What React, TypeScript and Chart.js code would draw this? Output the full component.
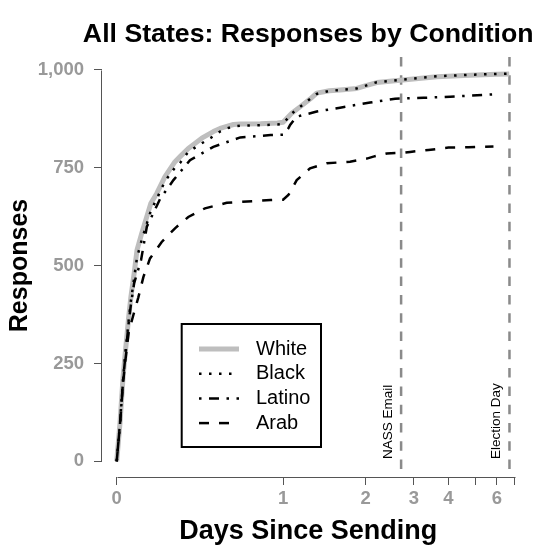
import { useEffect, useRef } from 'react';
import { Chart, registerables, LinearScale } from 'chart.js';

// ---------------- data ----------------
const CHART_TITLE = 'All States: Responses by Condition';
const SERIES_NAMES = ['White', 'Black', 'Latino', 'Arab'];

const WHITE_DAYS = [0, 0.015, 0.029, 0.038, 0.055, 0.065, 0.08, 0.093, 0.115, 0.158, 0.186, 0.226, 0.276, 0.302, 0.345, 0.419, 0.486, 0.527, 0.569, 0.613, 0.659, 0.808, 0.95, 1.0, 1.064, 1.105, 1.205, 1.326, 1.407, 1.56, 1.689, 1.891, 2.021, 2.229, 2.715, 3.665, 4.81, 6.0, 6.7];
const WHITE_RESP = [0, 98, 215, 270, 370, 420, 480, 539, 582, 659, 684, 727, 765, 778, 799, 825, 842, 850, 855, 860, 861, 862, 864, 866, 880, 889, 905, 925, 940, 946, 948, 952, 960, 967, 973, 982, 986, 988, 989];

const BLACK_DAYS = WHITE_DAYS;
const BLACK_RESP = [0, 98, 212, 265, 362, 410, 468, 520, 565, 640, 670, 715, 750, 762, 790, 812, 830, 842, 850, 855, 857, 858, 860, 862, 878, 888, 905, 925, 938, 946, 948, 952, 960, 968, 974, 983, 987, 989, 990];

const LATINO_DAYS = [0, 0.015, 0.029, 0.038, 0.055, 0.065, 0.08, 0.112, 0.139, 0.202, 0.268, 0.354, 0.486, 0.659, 0.89, 1.0, 1.064, 1.085, 1.165, 1.407, 1.689, 2.09, 2.61, 3.278, 4.064, 5.843];
const LATINO_RESP = [0, 95, 205, 260, 355, 400, 455, 514, 599, 670, 718, 769, 803, 827, 833, 834, 850, 859, 880, 893, 903, 916, 926, 928, 931, 937];

const ARAB_DAYS = [0, 0.015, 0.029, 0.038, 0.055, 0.076, 0.099, 0.123, 0.154, 0.21, 0.276, 0.345, 0.437, 0.569, 0.89, 1.0, 1.064, 1.165, 1.326, 1.528, 1.81, 2.021, 2.158, 2.438, 2.783, 2.923, 3.422, 4.0, 4.749, 5.843];
const ARAB_RESP = [0, 95, 200, 250, 330, 373, 418, 471, 518, 560, 595, 624, 646, 660, 667, 668, 680, 718, 748, 761, 765, 773, 778, 786, 788, 790, 795, 801, 802, 804];

const Y_TICKS = [0, 250, 500, 750, 1000];
const Y_TICK_LABELS = ['0', '250', '500', '750', '1,000'];
const X_TICKS = [0, 1, 2, 3, 4, 5, 6, 7];
const X_TICK_LABELS = ['0', '1', '2', '3', '4', '', '6', ''];

const EVENT_NAMES = ['NASS Email', 'Election Day'];
const EVENT_DAYS = [2.735, 6.715];

// ------------- warped time axis -------------
const WARP_K = Math.sqrt(3);
const WARP_KNOT_DAYS = [1, 2, 3, 4, 5, 6, 7];
const WARP_KNOT_POS = [1, 1.497, 1.786, 1.994, 2.155, 2.285, 2.391];

function warp(d: number): number {
  if (d <= 1) return Math.asinh(WARP_K * d) / Math.asinh(WARP_K);
  const n = WARP_KNOT_DAYS.length;
  for (let i = 1; i < n; i++) {
    if (d <= WARP_KNOT_DAYS[i] || i === n - 1) {
      const t = (d - WARP_KNOT_DAYS[i - 1]) / (WARP_KNOT_DAYS[i] - WARP_KNOT_DAYS[i - 1]);
      return WARP_KNOT_POS[i - 1] + t * (WARP_KNOT_POS[i] - WARP_KNOT_POS[i - 1]);
    }
  }
  return d;
}
function unwarp(u: number): number {
  if (u <= 1) return Math.sinh(u * Math.asinh(WARP_K)) / WARP_K;
  const n = WARP_KNOT_POS.length;
  for (let i = 1; i < n; i++) {
    if (u <= WARP_KNOT_POS[i] || i === n - 1) {
      const t = (u - WARP_KNOT_POS[i - 1]) / (WARP_KNOT_POS[i] - WARP_KNOT_POS[i - 1]);
      return WARP_KNOT_DAYS[i - 1] + t * (WARP_KNOT_DAYS[i] - WARP_KNOT_DAYS[i - 1]);
    }
  }
  return u;
}

class WarpScale extends LinearScale {
  static id = 'warp';
  static defaults = LinearScale.defaults;
  buildTicks() {
    return X_TICKS.map((v) => ({ value: v }));
  }
  getPixelForValue(v: number) {
    const a = warp(this.min);
    const b = warp(this.max);
    return this.getPixelForDecimal((warp(v) - a) / (b - a));
  }
  getValueForPixel(p: number) {
    const a = warp(this.min);
    const b = warp(this.max);
    return unwarp(a + this.getDecimalForPixel(p) * (b - a));
  }
}

Chart.register(...registerables, WarpScale as any);

const FONT = "'Liberation Sans', Arial, Helvetica, sans-serif";
const AXIS_COLOR = '#555555';
const TICK_LABEL_COLOR = '#999999';
const EVENT_COLOR = '#8a8a8a';

const toPoints = (days: number[], resp: number[]) => days.map((d, i) => ({ x: d, y: resp[i] }));

const decorPlugin = {
  id: 'decor',
  beforeDatasetsDraw(chart: any) {
    const { ctx, chartArea, scales } = chart;
    const xs = scales.x;
    ctx.save();
    ctx.strokeStyle = EVENT_COLOR;
    ctx.lineWidth = 2.5;
    ctx.setLineDash([9.5, 8.8]);
    EVENT_DAYS.forEach((d) => {
      const px = xs.getPixelForValue(d);
      ctx.beginPath();
      ctx.moveTo(px, chartArea.top + 3);
      ctx.lineTo(px, chartArea.bottom);
      ctx.stroke();
    });
    ctx.setLineDash([]);
    ctx.fillStyle = '#000';
    ctx.font = `13.5px ${FONT}`;
    ctx.textAlign = 'left';
    ctx.textBaseline = 'middle';
    EVENT_NAMES.forEach((name, i) => {
      const px = xs.getPixelForValue(EVENT_DAYS[i]);
      ctx.save();
      ctx.translate(px - 12.8, chartArea.bottom - 18);
      ctx.rotate(-Math.PI / 2);
      ctx.fillText(name, 0, 0);
      ctx.restore();
    });
    ctx.restore();
  },
  afterDatasetsDraw(chart: any) {
    const { ctx, chartArea, scales } = chart;
    const xs = scales.x;
    const ys = scales.y;
    ctx.save();
    // title centred over the plot region
    ctx.fillStyle = '#000';
    ctx.font = `bold 26.7px ${FONT}`;
    ctx.textAlign = 'center';
    ctx.textBaseline = 'alphabetic';
    ctx.fillText(CHART_TITLE, (chartArea.left + chartArea.right) / 2, chartArea.top - 12.5);

    ctx.strokeStyle = AXIS_COLOR;
    ctx.lineWidth = 1;
    const ax = Math.round(chartArea.left) - 0.5;
    ctx.beginPath();
    ctx.moveTo(ax, Math.round(ys.getPixelForValue(Y_TICKS[Y_TICKS.length - 1])) + 0.5);
    ctx.lineTo(ax, Math.round(ys.getPixelForValue(Y_TICKS[0])) + 0.5);
    ctx.stroke();
    const ay = Math.round(chartArea.bottom) + 0.5;
    ctx.beginPath();
    ctx.moveTo(Math.round(xs.getPixelForValue(X_TICKS[0])) + 0.5, ay);
    ctx.lineTo(Math.round(xs.getPixelForValue(X_TICKS[X_TICKS.length - 1])) + 0.5, ay);
    ctx.stroke();

    const lx = chartArea.left + 79.7;
    const ly = chartArea.top + 270;
    const lw = 139.3;
    const lh = 123;
    ctx.fillStyle = '#fff';
    ctx.fillRect(lx, ly, lw, lh);
    ctx.strokeStyle = '#000';
    ctx.lineWidth = 2;
    ctx.strokeRect(lx, ly, lw, lh);
    const dsets = chart.data.datasets;
    ctx.font = `20px ${FONT}`;
    ctx.textAlign = 'left';
    ctx.textBaseline = 'middle';
    SERIES_NAMES.forEach((name, i) => {
      const ds = dsets[i];
      const cy = ly + 25 + i * 24.7;
      ctx.save();
      ctx.strokeStyle = ds.borderColor;
      ctx.lineWidth = ds.borderWidth;
      ctx.setLineDash(ds.borderDash || []);
      ctx.lineCap = 'butt';
      ctx.beginPath();
      ctx.moveTo(lx + 17.3, cy);
      ctx.lineTo(lx + 57.3, cy);
      ctx.stroke();
      ctx.restore();
      ctx.fillStyle = '#000';
      ctx.fillText(name, lx + 74.3, cy);
    });
    ctx.restore();
  },
};

export default function App() {
  const ref = useRef<HTMLCanvasElement | null>(null);
  useEffect(() => {
    if (!ref.current) return;
    const tickFont = { family: FONT, size: 18.5, weight: 'bold' as const };
    const chart = new Chart(ref.current, {
      type: 'line',
      data: {
        datasets: [
          {
            label: SERIES_NAMES[0],
            data: toPoints(WHITE_DAYS, WHITE_RESP),
            borderColor: '#bebebe',
            borderWidth: 5,
            borderJoinStyle: 'round',
            pointRadius: 0,
            order: 10,
          },
          {
            label: SERIES_NAMES[1],
            data: toPoints(BLACK_DAYS, BLACK_RESP),
            borderColor: '#000',
            borderWidth: 2.5,
            borderDash: [2.5, 7.5],
            pointRadius: 0,
            order: 1,
          },
          {
            label: SERIES_NAMES[2],
            data: toPoints(LATINO_DAYS, LATINO_RESP),
            borderColor: '#000',
            borderWidth: 2.5,
            borderDash: [2.5, 7.5, 10, 7.5],
            pointRadius: 0,
            order: 2,
          },
          {
            label: SERIES_NAMES[3],
            data: toPoints(ARAB_DAYS, ARAB_RESP),
            borderColor: '#000',
            borderWidth: 2.5,
            borderDash: [10, 10],
            pointRadius: 0,
            order: 3,
          },
        ],
      },
      options: {
        animation: false,
        responsive: false,
        layout: { padding: { left: 0, right: 31.5, top: 54, bottom: 0 } },
        plugins: {
          legend: { display: false },
          tooltip: { enabled: false },
          title: { display: false },
        },
        scales: {
          x: {
            type: 'warp' as any,
            min: -0.0674,
            max: 7,
            grid: { drawOnChartArea: false, drawTicks: true, tickLength: 8, color: AXIS_COLOR, lineWidth: 1 },
            border: { display: false },
            ticks: {
              autoSkip: false,
              maxRotation: 0,
              minRotation: 0,
              color: TICK_LABEL_COLOR,
              font: tickFont,
              padding: 3,
              callback: (_v: any, i: number) => X_TICK_LABELS[i],
            },
            title: {
              display: true,
              text: 'Days Since Sending',
              color: '#000',
              font: { family: FONT, size: 27, weight: 'bold', lineHeight: 1.0 },
              padding: { top: 0, bottom: 0 },
            },
            afterFit: (s: any) => {
              s.height = 68;
            },
          } as any,
          y: {
            type: 'linear',
            min: -40,
            max: 1040,
            afterBuildTicks: (s: any) => {
              s.ticks = Y_TICKS.map((v) => ({ value: v }));
            },
            grid: { drawOnChartArea: false, drawTicks: true, tickLength: 8, color: AXIS_COLOR, lineWidth: 1 },
            border: { display: false },
            ticks: {
              color: TICK_LABEL_COLOR,
              font: tickFont,
              padding: 10,
              callback: (_v: any, i: number) => Y_TICK_LABELS[i],
            },
            title: {
              display: true,
              text: 'Responses',
              color: '#000',
              font: { family: FONT, size: 25, weight: 'bold', lineHeight: 1.0 },
              padding: { top: 7.5, bottom: 0 },
            },
            afterFit: (s: any) => {
              s.width = 102;
            },
          },
        },
      },
      plugins: [decorPlugin],
    });
    return () => chart.destroy();
  }, []);
  return (
    <div style={{ position: 'absolute', left: 0, top: 0, width: 546, height: 545, background: '#fff' }}>
      <canvas ref={ref} width={546} height={545} style={{ display: 'block' }} />
    </div>
  );
}
